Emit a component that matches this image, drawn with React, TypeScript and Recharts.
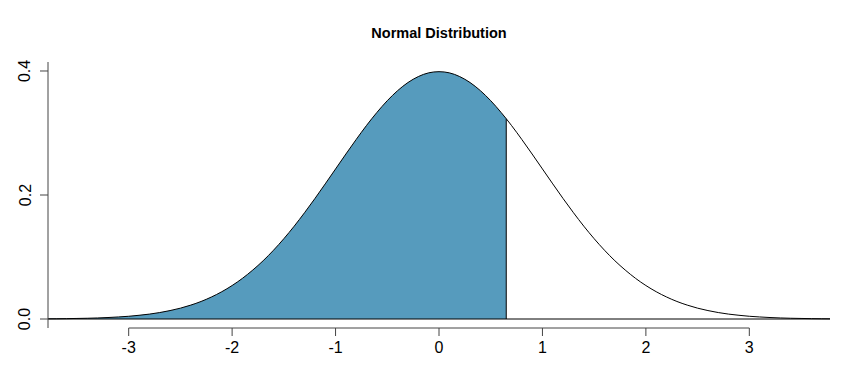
import React from 'react';
import {
  ComposedChart,
  Area,
  Line,
  XAxis,
  YAxis,
  ReferenceLine,
} from 'recharts';

// density values
const xValues = [
  -3.8, -3.7, -3.6, -3.5, -3.4, -3.3, -3.2, -3.1, -3.0, -2.9, -2.8, -2.7, -2.6,
  -2.5, -2.4, -2.3, -2.2, -2.1, -2.0, -1.9, -1.8, -1.7, -1.6, -1.5, -1.4, -1.3,
  -1.2, -1.1, -1.0, -0.9, -0.8, -0.7, -0.6, -0.5, -0.4, -0.3, -0.2, -0.1, 0.0,
  0.1, 0.2, 0.3, 0.4, 0.5, 0.6, 0.65, 0.7, 0.8, 0.9, 1.0, 1.1, 1.2, 1.3, 1.4,
  1.5, 1.6, 1.7, 1.8, 1.9, 2.0, 2.1, 2.2, 2.3, 2.4, 2.5, 2.6, 2.7, 2.8, 2.9,
  3.0, 3.1, 3.2, 3.3, 3.4, 3.5, 3.6, 3.7, 3.8,
];
const densities = [
  0.0003, 0.0004, 0.0006, 0.0009, 0.0012, 0.0017, 0.0024, 0.0033, 0.0044,
  0.006, 0.0079, 0.0104, 0.0136, 0.0175, 0.0224, 0.0283, 0.0355, 0.044, 0.054,
  0.0656, 0.079, 0.094, 0.1109, 0.1295, 0.1497, 0.1714, 0.1942, 0.2179, 0.242,
  0.2661, 0.2897, 0.3123, 0.3332, 0.3521, 0.3683, 0.3814, 0.391, 0.397, 0.3989,
  0.397, 0.391, 0.3814, 0.3683, 0.3521, 0.3332, 0.323, 0.3123, 0.2897, 0.2661,
  0.242, 0.2179, 0.1942, 0.1714, 0.1497, 0.1295, 0.1109, 0.094, 0.079, 0.0656,
  0.054, 0.044, 0.0355, 0.0283, 0.0224, 0.0175, 0.0136, 0.0104, 0.0079, 0.006,
  0.0044, 0.0033, 0.0024, 0.0017, 0.0012, 0.0009, 0.0006, 0.0004, 0.0003,
];
const cutoff = 0.65;
const xTicks = [-3, -2, -1, 0, 1, 2, 3];
const yTicks = [0, 0.2, 0.4];

const X_DOMAIN: [number, number] = [-3.78, 3.78];
const Y_DOMAIN: [number, number] = [-0.0145, 0.4145];
const FONT = '"Liberation Sans", Arial, Helvetica, sans-serif';
const SHADE = '#569BBD';

const data = xValues.map((x, i) => ({
  x,
  y: densities[i],
  shaded: x <= cutoff ? densities[i] : null,
}));
const cutoffY = densities[xValues.indexOf(cutoff)];

const YTick = (props: any) => {
  const { y, payload } = props;
  return (
    <text
      x={25}
      y={y}
      transform={`rotate(-90, 25, ${y})`}
      textAnchor="middle"
      dominantBaseline="central"
      fontSize={16}
      fontFamily={FONT}
      fill="#000"
    >
      {Number(payload.value).toFixed(1)}
    </text>
  );
};

export default function App() {
  return (
    <div
      style={{
        position: 'absolute',
        left: 0,
        top: 0,
        width: 841,
        height: 380,
        background: '#fff',
      }}
    >
      <div
        style={{
          position: 'absolute',
          left: 48,
          width: 782,
          top: 24,
          textAlign: 'center',
          fontFamily: FONT,
          fontWeight: 'bold',
          fontSize: 14.5,
          lineHeight: '18px',
          color: '#000',
        }}
      >
        Normal Distribution
      </div>
      <ComposedChart
        width={841}
        height={380}
        data={data}
        margin={{ top: 62, right: 11, bottom: 0, left: 0 }}
      >
        <XAxis
          dataKey="x"
          type="number"
          domain={X_DOMAIN}
          allowDataOverflow
          ticks={xTicks}
          height={52}
          axisLine={false}
          tickSize={8}
          tickMargin={6}
          tickLine={{ stroke: '#444' }}
          tick={{ fontSize: 16, fontFamily: FONT, fill: '#000' }}
          interval={0}
        />
        <YAxis
          type="number"
          domain={Y_DOMAIN}
          allowDataOverflow
          ticks={yTicks}
          width={48}
          tickSize={8}
          axisLine={{ stroke: '#444' }}
          tickLine={{ stroke: '#444' }}
          tick={<YTick />}
          interval={0}
        />
        <Area
          dataKey="shaded"
          type="monotone"
          stroke="none"
          fill={SHADE}
          fillOpacity={1}
          baseValue={0}
          connectNulls={false}
          isAnimationActive={false}
        />
        <ReferenceLine y={0} stroke="#000" strokeWidth={1} />
        <ReferenceLine
          segment={[
            { x: cutoff, y: 0 },
            { x: cutoff, y: cutoffY },
          ]}
          stroke="#000"
          strokeWidth={1}
        />
        <ReferenceLine
          segment={[
            { x: xTicks[0], y: Y_DOMAIN[0] },
            { x: xTicks[xTicks.length - 1], y: Y_DOMAIN[0] },
          ]}
          stroke="#444"
          strokeWidth={1}
          ifOverflow="visible"
        />
        <Line
          dataKey="y"
          type="monotone"
          stroke="#000"
          strokeWidth={1}
          dot={false}
          activeDot={false}
          isAnimationActive={false}
        />
      </ComposedChart>
    </div>
  );
}
